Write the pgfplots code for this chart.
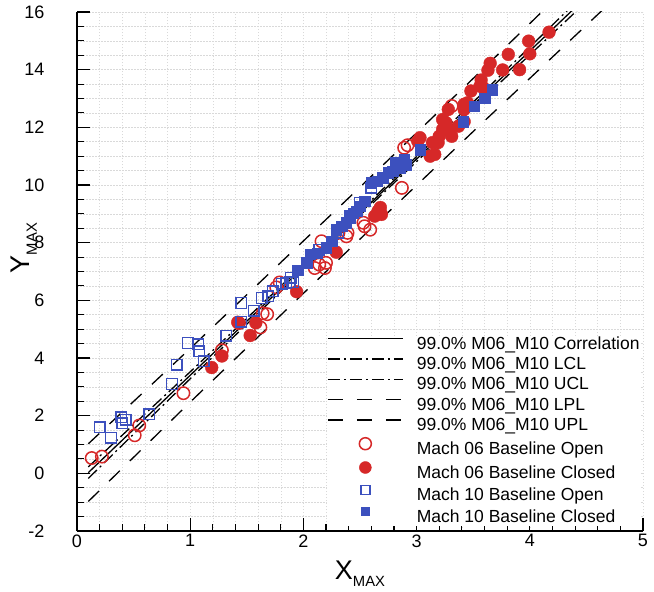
\documentclass[border=0pt]{standalone}
\usepackage{fontspec}
\setmainfont{Liberation Sans}
\usepackage{graphicx}
\usepackage{pgfplots}
\pgfplotsset{compat=1.18}
\definecolor{mred}{RGB}{214,40,40}
\definecolor{mblue}{RGB}{60,80,190}
\begin{document}
\begin{tikzpicture}
\useasboundingbox (-77bp,-61bp) rectangle (577bp,531bp);
\begin{axis}[
  at={(0,0)}, anchor=south west,
  scale only axis, width=566bp, height=519bp,
  xmin=0, xmax=5, ymin=-2, ymax=16,
  axis x line*=bottom, axis y line*=left,
  axis line style={line width=1.6bp, -},
  xtick={0,1,2,3,4,5}, ytick={-2,0,2,4,6,8,10,12,14,16},
  minor x tick num=4, minor y tick num=3,
  tick align=inside,
  major tick length=13bp, minor tick length=7bp,
  every tick/.style={black, line width=1.1bp},
  grid=both,
  major grid style={gray!30, dash pattern=on 1.5bp off 1.5bp, line width=0.5bp},
  minor grid style={gray!30, dash pattern=on 1.5bp off 1.5bp, line width=0.5bp},
  /pgf/number format/assume math mode=true,
  tick label style={font=\fontsize{18bp}{20bp}\selectfont},
  yticklabel style={xshift=-29bp},
  xlabel={\fontsize{27bp}{28bp}\selectfont X\raisebox{-7bp}{\fontsize{14.8bp}{15bp}\selectfont MAX}},
  xlabel style={at={(axis description cs:0.5,-0.082)}, anchor=center},
  legend cell align=left,
  legend image code/.code={
    \path[draw=none, fill=none] (0bp,6bp) -- (89bp,6bp);
    \draw[#1, mark repeat=2, mark phase=2] plot coordinates {(0bp,6bp) (37.5bp,6bp) (75bp,6bp)};
  },
  legend style={at={(axis description cs:0.4417,0.3757)}, anchor=north west,
    draw=none, fill=white, inner sep=0bp, column sep=0bp, row sep=3.3bp,
    font=\fontsize{17.5bp}{20bp}\selectfont,
    nodes={inner sep=0bp, text height=13bp, text depth=4bp}},
]
% ---- data markers (drawn first, lines on top) ----
\addplot[only marks, mark=o, mark size=6.2bp, draw=mred, line width=1.5bp, forget plot] coordinates {
(0.13,0.53) (0.22,0.58) (0.51,1.32) (0.55,1.66) (0.94,2.78) (1.28,4.27)
(1.43,5.21) (1.62,5.06) (1.68,5.52) (1.64,5.55) (1.76,6.45) (1.79,6.62)
(2.10,7.12) (2.14,7.24) (2.19,7.12) (2.20,7.30) (2.16,8.05) (2.31,8.34)
(2.38,8.22) (2.39,8.34) (2.53,8.69) (2.54,8.57) (2.59,8.45) (2.87,9.90)
(2.92,11.38) (2.89,11.29) (3.31,12.74)
};
\addplot[only marks, mark=*, mark size=6.4bp, draw=mred, fill=mred, forget plot] coordinates {
(1.19,3.67) (1.28,4.07) (1.42,5.24) (1.53,4.78) (1.58,5.22) (1.94,6.30)
(2.29,7.67) (2.63,8.92) (2.66,9.10) (2.69,8.98) (2.68,9.22)
(3.01,11.52) (3.03,11.64) (3.12,11.00) (3.14,11.47) (3.16,11.06) (3.19,11.47)
(3.20,11.69) (3.23,11.93) (3.23,12.27) (3.26,12.16) (3.28,12.62) (3.28,11.93)
(3.31,11.69) (3.37,12.04) (3.42,12.62) (3.42,12.80) (3.45,12.85) (3.48,13.26)
(3.56,13.43) (3.57,13.64) (3.59,13.37) (3.63,13.98) (3.65,14.22) (3.76,13.99)
(3.81,14.53) (3.91,14.00) (3.99,14.99) (4.00,14.55) (4.17,15.30) (3.44,12.74)
(3.42,12.20)
};
\addplot[only marks, mark=square, mark size=5.3bp, draw=mblue, line width=1.4bp, forget plot] coordinates {
(0.20,1.60) (0.30,1.24) (0.39,1.95) (0.40,1.74) (0.43,1.86) (0.64,2.05)
(0.84,3.10) (0.88,3.77) (0.98,4.52) (1.07,4.48) (1.08,4.23) (1.12,3.88)
(1.32,4.78) (1.45,5.91) (1.45,5.26) (1.56,5.64) (1.63,6.08) (1.69,6.14)
(1.73,6.31) (1.81,6.58) (1.88,6.62) (1.91,6.62) (1.85,6.60) (1.89,6.78)
(2.14,7.76) (2.31,8.34) (2.41,8.92) (2.50,9.38) (2.60,9.90)
};
\addplot[only marks, mark=square*, mark size=5.2bp, draw=mblue, fill=mblue, forget plot] coordinates {
(1.95,7.05) (2.03,7.30) (2.06,7.59) (2.12,7.64) (2.20,7.82) (2.25,8.05)
(2.29,8.45) (2.34,8.57) (2.38,8.69) (2.41,8.86) (2.44,9.03) (2.47,9.09)
(2.50,9.26) (2.54,9.44) (2.60,10.08) (2.65,10.13) (2.70,10.25) (2.75,10.42)
(2.79,10.48) (2.81,10.77) (2.85,10.60) (2.89,10.89) (2.91,10.71) (3.03,11.23)
(3.41,12.20) (3.51,12.74) (3.60,13.01) (3.67,13.30)
};
% ---- correlation and limits ----
\addplot[black, line width=1.3bp, mark=none] coordinates {(0.1,0.025) (4.5,16.525)};
\addlegendentry{99.0\% M06\_M10 Correlation}
\addplot[black, line width=1.3bp, mark=none, dash pattern=on 12bp off 4bp on 2bp off 4bp] coordinates {(0.1,-0.175) (1.0,3.28) (2.4,8.58) (3.5,12.675) (4.5,16.355)};
\addlegendentry{99.0\% M06\_M10 LCL}
\addplot[black, line width=1.3bp, mark=none, dash pattern=on 12bp off 4bp on 2bp off 4bp] coordinates {(0.1,0.225) (1.0,3.52) (2.4,8.72) (3.5,12.875) (4.5,16.695)};
\addlegendentry{99.0\% M06\_M10 UCL}
\addplot[black, line width=1.3bp, mark=none, dash pattern=on 15bp off 14bp] coordinates {(0.1,-0.975) (1.0,2.47) (2.4,7.75) (3.5,11.855) (4.8,16.65)};
\addlegendentry{99.0\% M06\_M10 LPL}
\addplot[black, line width=1.3bp, mark=none, dash pattern=on 15bp off 14bp] coordinates {(0.1,1.025) (1.0,4.33) (2.4,9.55) (3.5,13.695) (4.5,17.505)};
\addlegendentry{99.0\% M06\_M10 UPL}
\addlegendimage{only marks, mark=o, mark size=6bp, draw=mred, line width=1.5bp}
\addlegendentry{Mach 06 Baseline Open}
\addlegendimage{only marks, mark=*, mark size=6bp, draw=mred, fill=mred}
\addlegendentry{Mach 06 Baseline Closed}
\addlegendimage{only marks, mark=square, mark size=4.5bp, draw=mblue, line width=1.4bp}
\addlegendentry{Mach 10 Baseline Open}
\addlegendimage{only marks, mark=square*, mark size=4bp, draw=mblue, fill=mblue}
\addlegendentry{Mach 10 Baseline Closed}
\end{axis}
\node[anchor=center, inner sep=0pt] at (-53bp,283bp)
  {\rotatebox{90}{\fontsize{27bp}{28bp}\selectfont Y\raisebox{-7bp}{\fontsize{14.8bp}{15bp}\selectfont MAX}}};
\end{tikzpicture}
\end{document}
